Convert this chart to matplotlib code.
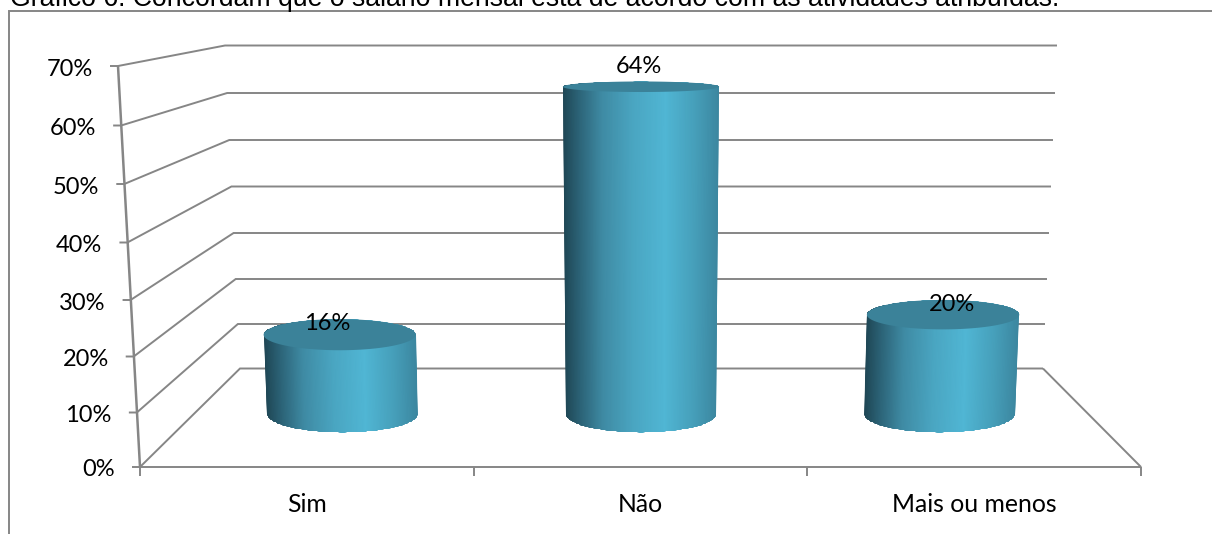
import numpy as np
import matplotlib
matplotlib.use("Agg")
import matplotlib.pyplot as plt
from matplotlib.colors import LinearSegmentedColormap
from matplotlib.patches import PathPatch
from matplotlib.path import Path

# Survey results
title = "Gráfico 6. Concordam que o salário mensal está de acordo com as atividades atribuídas."
categories = ["Sim", "Não", "Mais ou menos"]
shares = [16, 64, 20]
tick_values = [0, 10, 20, 30, 40, 50, 60, 70]

# Perspective of the 3-D box, in figure pixels (y measured from the top)
front_y = [467, 412.5, 356.5, 300, 242.5, 184, 125.5, 66]
back_y = [368.5, 324, 279, 233, 186.5, 140, 93, 45.5]
front_left_x = (140, 118)
back_left_x = (240, 225)
front_right_x = (1141, 1164)
back_right_x = (1043, 1057)
x_spacing = 0.331
half_width = 0.0835
ellipse_ratio = 0.19
bar_depth = 0.54
label_nudge = [(-12, -10.7), (-2, -20.5), (9, -10.6)]

GRID = "#868686"
CAP = "#3b8299"
shade = LinearSegmentedColormap.from_list(
    "cyl",
    [(0.0, "#1f4755"), (0.10, "#2c6377"), (0.25, "#3f8ba4"),
     (0.45, "#4aa6c2"), (0.66, "#50b6d4"), (0.85, "#469fba"), (1.0, "#3c87a0")],
)


def along(ends, v):
    return ends[0] + (ends[1] - ends[0]) * v / tick_values[-1]


def wall_y(v, depth):
    """Height on screen of value v at a depth from 0 (front) to 1 (back)."""
    f = np.interp(v, tick_values, front_y)
    b = np.interp(v, tick_values, back_y)
    return f + (b - f) * depth


def bar_ring(index, v):
    """Centre, half-width and half-height of a cylinder section at value v."""
    left = (along(front_left_x, v) + along(back_left_x, v)) / 2
    right = (along(front_right_x, v) + along(back_right_x, v)) / 2
    span = right - left
    cx = (left + right) / 2 + (index - 1) * x_spacing * span
    rise = np.interp(v, tick_values, front_y) - np.interp(v, tick_values, back_y)
    return cx, wall_y(v, bar_depth), half_width * span, rise * ellipse_ratio


fig = plt.figure(figsize=(12.12, 5.34), dpi=100, facecolor="white")
ax = fig.add_axes([0, 0, 1, 1])
ax.set_xlim(0, 1212)
ax.set_ylim(534, 0)
ax.axis("off")

line = dict(color=GRID, lw=1.4, solid_capstyle="butt", solid_joinstyle="miter")

# Outer chart frame, open on the right and at the bottom
ax.plot([9, 9, 1212], [534, 11, 11], **line)

# Walls: each level runs from the value axis to the back corner, then across
for v, fy, by in zip(tick_values, front_y, back_y):
    fx = along(front_left_x, v)
    ax.plot([fx - 8, fx, along(back_left_x, v), along(back_right_x, v)],
            [fy, fy, by, by], **line)
    ax.text(fx - 25, fy + 3, f"{v}%", ha="right", va="center",
            family="Lato", fontsize=17, color="black")

# Value axis and floor outline
ax.plot(front_left_x, (front_y[0], front_y[-1]), color=GRID, lw=1.8,
        solid_capstyle="butt")
ax.plot([front_left_x[0], front_right_x[0], back_right_x[0]],
        [front_y[0], front_y[0], back_y[0]], **line)

# Category ticks and labels
edges = np.linspace(front_left_x[0], front_right_x[0], len(categories) + 1)
for x in edges:
    ax.plot([x, x], [front_y[0], front_y[0] + 9], **line)
for x0, x1, name in zip(edges[:-1], edges[1:], categories):
    ax.text((x0 + x1) / 2, 505, name, ha="center", va="center",
            family="Lato", fontsize=17.8, color="black")

# Cylinders
t = np.linspace(0, np.pi, 80)
ramp = np.linspace(0, 1, 128)
for i, (name, value) in enumerate(zip(categories, shares)):
    cx_t, cy_t, rx_t, ry_t = bar_ring(i, value)
    cx_b, cy_b, rx_b, ry_b = bar_ring(i, 0)

    lower_x = cx_b - rx_b * np.cos(t)
    lower_y = cy_b + ry_b * np.sin(t)
    upper_x = cx_t + rx_t * np.cos(t)
    upper_y = cy_t - ry_t * np.sin(t)
    outline = np.column_stack([np.r_[lower_x, upper_x], np.r_[lower_y, upper_y]])
    body = PathPatch(Path(np.vstack([outline, outline[0]]), closed=True),
                     transform=ax.transData, fc="none", ec="none")
    ax.add_patch(body)

    top_edge = cx_t - rx_t + 2 * rx_t * ramp
    base_edge = cx_b - rx_b + 2 * rx_b * ramp
    mesh_x = np.vstack([top_edge, base_edge])
    mesh_y = np.vstack([np.full_like(ramp, cy_t - ry_t),
                        np.full_like(ramp, cy_b + ry_b)])
    mesh = ax.pcolormesh(mesh_x, mesh_y, np.vstack([ramp, ramp]), cmap=shade,
                         vmin=0, vmax=1, shading="gouraud", zorder=3)
    mesh.set_clip_path(body)

    theta = np.linspace(0, 2 * np.pi, 160)
    ax.fill(cx_t + rx_t * np.cos(theta), cy_t + ry_t * np.sin(theta),
            color=CAP, lw=0, zorder=4)

    dx, dy = label_nudge[i]
    ax.text(cx_t + dx, cy_t + dy, f"{value}%", ha="center", va="center",
            family="Lato", fontsize=17, color="black", zorder=5)

# Caption sits partly above the top edge of the canvas
ax.text(10, 6, title, ha="left", va="baseline", family="Liberation Sans",
        fontsize=19.2, color="black")

fig.savefig("out.png", dpi=100)
